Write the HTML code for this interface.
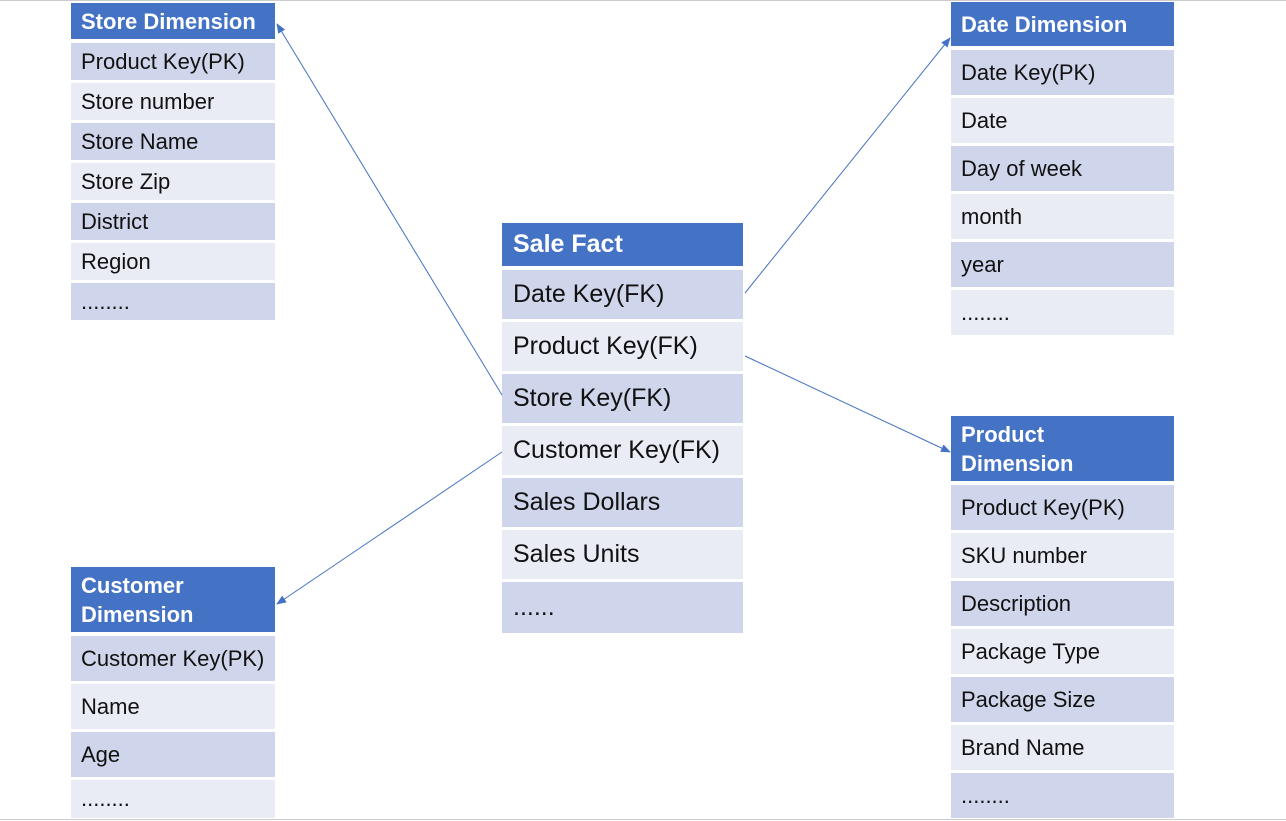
<!DOCTYPE html>
<html><head><style>
body{margin:0;width:1286px;height:821px;background:#fff;position:relative;overflow:hidden;font-family:"Liberation Sans","Noto Sans CJK SC",sans-serif}
.b{position:absolute;box-sizing:border-box;padding-left:10px;display:flex;align-items:center;color:#111}
.h{background:#4472C4;color:#fff;font-weight:bold;font-size:22px;line-height:29px}
.d{background:#CFD5EA;font-size:22px}
.l{background:#E9EBF5;font-size:22px}
.f{font-size:25px;padding-left:11px}
.f.h{font-size:25px}
</style></head><body>
<div style="position:absolute;left:0;top:0;width:1286px;height:1px;background:#ccc"></div>
<div style="position:absolute;left:0;top:819px;width:1286px;height:1px;background:#ccc"></div>

<div class="b h" style="left:71px;top:3px;width:204px;height:36px">Store Dimension</div>
<div class="b d" style="left:71px;top:43px;width:204px;height:37px">Product Key(PK)</div>
<div class="b l" style="left:71px;top:83px;width:204px;height:37px">Store number</div>
<div class="b d" style="left:71px;top:123px;width:204px;height:37px">Store Name</div>
<div class="b l" style="left:71px;top:163px;width:204px;height:37px">Store Zip</div>
<div class="b d" style="left:71px;top:203px;width:204px;height:37px">District</div>
<div class="b l" style="left:71px;top:243px;width:204px;height:37px">Region</div>
<div class="b d" style="left:71px;top:283px;width:204px;height:37px">........</div>

<div class="b h f" style="left:502px;top:223px;width:241px;height:43px">Sale Fact</div>
<div class="b d f" style="left:502px;top:270px;width:241px;height:49px">Date Key(FK)</div>
<div class="b l f" style="left:502px;top:322px;width:241px;height:49px">Product Key(FK)</div>
<div class="b d f" style="left:502px;top:374px;width:241px;height:49px">Store Key(FK)</div>
<div class="b l f" style="left:502px;top:426px;width:241px;height:49px">Customer Key(FK)</div>
<div class="b d f" style="left:502px;top:478px;width:241px;height:49px">Sales Dollars</div>
<div class="b l f" style="left:502px;top:530px;width:241px;height:49px">Sales Units</div>
<div class="b d f" style="left:502px;top:582px;width:241px;height:51px">......</div>

<div class="b h" style="left:951px;top:2px;width:223px;height:44px">Date Dimension</div>
<div class="b d" style="left:951px;top:50px;width:223px;height:45px">Date Key(PK)</div>
<div class="b l" style="left:951px;top:98px;width:223px;height:45px">Date</div>
<div class="b d" style="left:951px;top:146px;width:223px;height:45px">Day of week</div>
<div class="b l" style="left:951px;top:194px;width:223px;height:45px">month</div>
<div class="b d" style="left:951px;top:242px;width:223px;height:45px">year</div>
<div class="b l" style="left:951px;top:290px;width:223px;height:45px">........</div>

<div class="b h" style="left:951px;top:416px;width:223px;height:65px">Product<br>Dimension</div>
<div class="b d" style="left:951px;top:485px;width:223px;height:45px">Product Key(PK)</div>
<div class="b l" style="left:951px;top:533px;width:223px;height:45px">SKU number</div>
<div class="b d" style="left:951px;top:581px;width:223px;height:45px">Description</div>
<div class="b l" style="left:951px;top:629px;width:223px;height:45px">Package Type</div>
<div class="b d" style="left:951px;top:677px;width:223px;height:45px">Package Size</div>
<div class="b l" style="left:951px;top:725px;width:223px;height:45px">Brand Name</div>
<div class="b d" style="left:951px;top:773px;width:223px;height:45px">........</div>

<div class="b h" style="left:71px;top:567px;width:204px;height:65px">Customer<br>Dimension</div>
<div class="b d" style="left:71px;top:636px;width:204px;height:45px">Customer Key(PK)</div>
<div class="b l" style="left:71px;top:684px;width:204px;height:45px">Name</div>
<div class="b d" style="left:71px;top:732px;width:204px;height:45px">Age</div>
<div class="b l" style="left:71px;top:780px;width:204px;height:38px">........</div>

<svg style="position:absolute;left:0;top:0" width="1286" height="821">
<defs><marker id="a" markerWidth="10" markerHeight="8" refX="9" refY="4" orient="auto" markerUnits="userSpaceOnUse"><path d="M0,0 L10,4 L0,8 z" fill="#4472C4"/></marker></defs>
<g stroke="#4472C4" stroke-width="1" fill="none">
<line x1="502" y1="395" x2="277" y2="24" marker-end="url(#a)"/>
<line x1="745" y1="293" x2="950" y2="38" marker-end="url(#a)"/>
<line x1="745" y1="356" x2="950" y2="452" marker-end="url(#a)"/>
<line x1="502" y1="452" x2="277" y2="604" marker-end="url(#a)"/>
</g></svg>
</body></html>
